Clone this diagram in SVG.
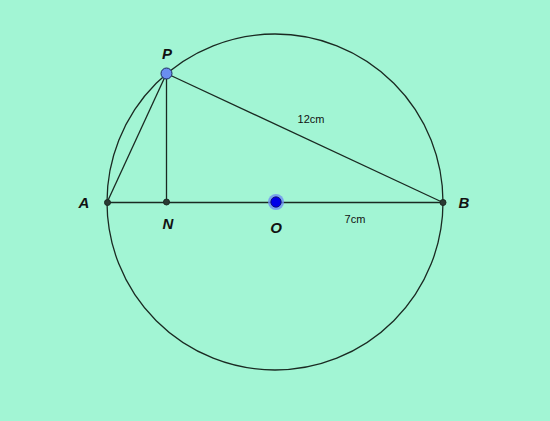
<svg xmlns="http://www.w3.org/2000/svg" width="550" height="421" viewBox="0 0 550 421">
<style>
.ln{stroke:#1a2a22;stroke-width:1.3;fill:none}
.pt{fill:#2a3a33;stroke:#1a2a22;stroke-width:1}
.lbl{font-family:"Liberation Sans",Arial,sans-serif;font-weight:bold;font-style:italic;font-size:15px;fill:#111;text-anchor:middle}
.len{font-family:"Liberation Sans",Arial,sans-serif;font-size:11px;fill:#111;text-anchor:middle}
</style>
<rect width="550" height="421" fill="#a2f5d4"/>
<g id="connectors">
<circle class="ln" cx="275" cy="202" r="168"/>
<line class="ln" x1="107" y1="202.5" x2="443" y2="202.5"/>
<line class="ln" x1="166.5" y1="73.5" x2="107" y2="202.5"/>
<line class="ln" x1="166.5" y1="73.5" x2="166.5" y2="202"/>
<line class="ln" x1="166.5" y1="73.5" x2="443" y2="202.5"/>
</g>
<g id="A"><circle class="pt" cx="107.5" cy="202.5" r="3"/><text class="lbl" x="84" y="208">A</text></g>
<g id="N"><circle class="pt" cx="166.5" cy="202" r="3"/><text class="lbl" x="168" y="229">N</text></g>
<g id="B"><circle class="pt" cx="443" cy="202.5" r="3"/><text class="lbl" x="464" y="208">B</text></g>
<g id="O"><circle cx="276" cy="202" r="8" fill="#6f8ff2" opacity="0.8"/><circle cx="276" cy="202" r="5.2" fill="#0000e8" stroke="#0a0a60" stroke-width="0.8"/><text class="lbl" x="276" y="233">O</text></g>
<g id="P"><circle cx="166.5" cy="73.5" r="5.5" fill="#6a8ef0" stroke="#1a2a60" stroke-width="1"/><text class="lbl" x="167" y="59">P</text></g>
<text class="len" x="311" y="123">12cm</text>
<text class="len" x="355" y="223">7cm</text>
</svg>
